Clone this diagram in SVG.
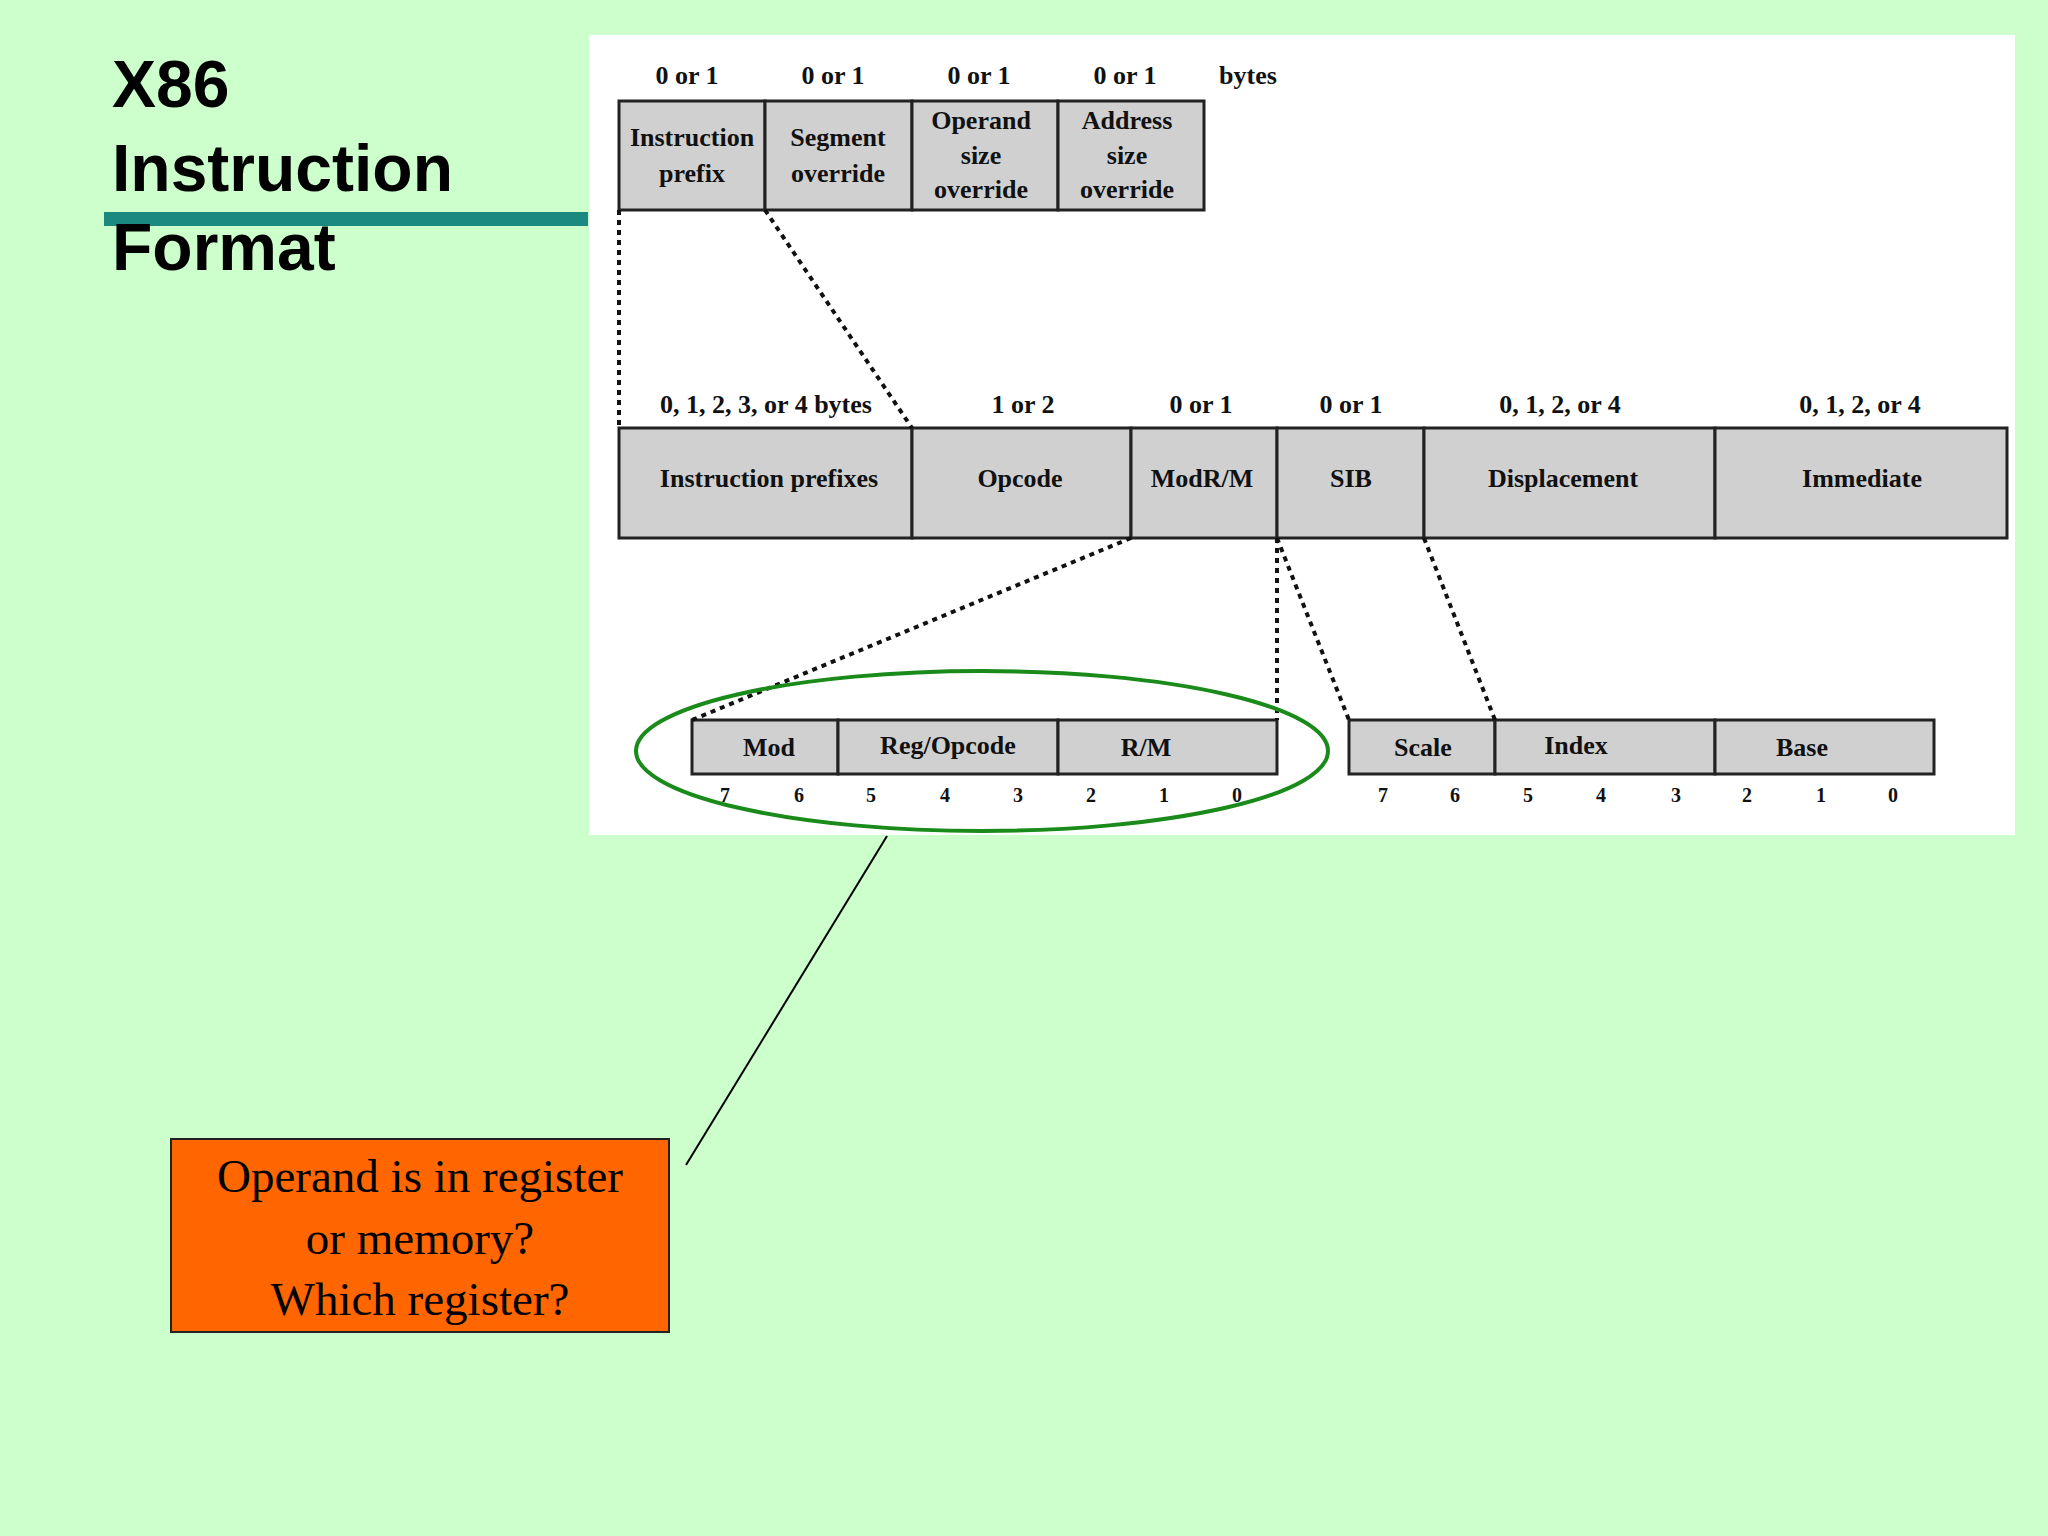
<svg xmlns="http://www.w3.org/2000/svg" width="2048" height="1536" viewBox="0 0 2048 1536">
<style>
.t{font-family:"Liberation Sans",Arial,sans-serif;font-weight:bold;font-size:66px;fill:#000}
.s{font-family:"Liberation Serif","Times New Roman",serif;font-weight:bold;font-size:26px;fill:#111;text-anchor:middle}
.b{fill:#d0d0d0;stroke:#222;stroke-width:3}
.d{stroke:#111;stroke-width:4;stroke-dasharray:5,5;fill:none}
.o{font-family:"Liberation Serif","Times New Roman",serif;font-size:47px;fill:#000;text-anchor:middle}
</style>
<rect width="2048" height="1536" fill="#ccffcc"/>
<rect x="589" y="35" width="1426" height="800" fill="#fff"/>
<rect x="104" y="212" width="484" height="14" fill="#1a8a80"/>
<text class="t" x="112" y="107">X86</text>
<text class="t" x="112" y="191">Instruction</text>
<text class="t" x="112" y="270">Format</text>
<g id="top">
<rect class="b" x="619" y="101" width="146" height="109"/>
<rect class="b" x="765" y="101" width="147" height="109"/>
<rect class="b" x="912" y="101" width="146" height="109"/>
<rect class="b" x="1058" y="101" width="146" height="109"/>
<text class="s" x="687" y="84">0 or 1</text><text class="s" x="833" y="84">0 or 1</text><text class="s" x="979" y="84">0 or 1</text><text class="s" x="1125" y="84">0 or 1</text><text class="s" x="1248" y="84">bytes</text>
<text class="s" x="692" y="146">Instruction</text><text class="s" x="692" y="182">prefix</text>
<text class="s" x="838" y="146">Segment</text><text class="s" x="838" y="182">override</text>
<text class="s" x="981" y="129">Operand</text><text class="s" x="981" y="164">size</text><text class="s" x="981" y="198">override</text>
<text class="s" x="1127" y="129">Address</text><text class="s" x="1127" y="164">size</text><text class="s" x="1127" y="198">override</text>
</g>
<g id="mid">
<rect class="b" x="619" y="428" width="293" height="110"/>
<rect class="b" x="912" y="428" width="219" height="110"/>
<rect class="b" x="1131" y="428" width="146" height="110"/>
<rect class="b" x="1277" y="428" width="147" height="110"/>
<rect class="b" x="1424" y="428" width="291" height="110"/>
<rect class="b" x="1715" y="428" width="292" height="110"/>
<text class="s" x="766" y="413">0, 1, 2, 3, or 4 bytes</text><text class="s" x="1023" y="413">1 or 2</text><text class="s" x="1201" y="413">0 or 1</text><text class="s" x="1351" y="413">0 or 1</text><text class="s" x="1560" y="413">0, 1, 2, or 4</text><text class="s" x="1860" y="413">0, 1, 2, or 4</text>
<text class="s" x="769" y="487">Instruction prefixes</text><text class="s" x="1020" y="487">Opcode</text><text class="s" x="1202" y="487">ModR/M</text><text class="s" x="1351" y="487">SIB</text><text class="s" x="1563" y="487">Displacement</text><text class="s" x="1862" y="487">Immediate</text>
</g>
<g id="modrm">
<rect class="b" x="692" y="720" width="146" height="54"/>
<rect class="b" x="838" y="720" width="220" height="54"/>
<rect class="b" x="1058" y="720" width="219" height="54"/>
<text class="s" x="769" y="756">Mod</text><text class="s" x="948" y="754">Reg/Opcode</text><text class="s" x="1146" y="756">R/M</text>
<g class="s" style="font-size:20px"><text x="725" y="802">7</text><text x="799" y="802">6</text><text x="871" y="802">5</text><text x="945" y="802">4</text><text x="1018" y="802">3</text><text x="1091" y="802">2</text><text x="1164" y="802">1</text><text x="1237" y="802">0</text></g>
</g>
<g id="sib">
<rect class="b" x="1349" y="720" width="146" height="54"/>
<rect class="b" x="1495" y="720" width="220" height="54"/>
<rect class="b" x="1715" y="720" width="219" height="54"/>
<text class="s" x="1423" y="756">Scale</text><text class="s" x="1576" y="754">Index</text><text class="s" x="1802" y="756">Base</text>
<g class="s" style="font-size:20px"><text x="1383" y="802">7</text><text x="1455" y="802">6</text><text x="1528" y="802">5</text><text x="1601" y="802">4</text><text x="1676" y="802">3</text><text x="1747" y="802">2</text><text x="1821" y="802">1</text><text x="1893" y="802">0</text></g>
</g>
<g id="connectors">
<line class="d" x1="619" y1="210" x2="619" y2="428"/>
<line class="d" x1="765" y1="210" x2="912" y2="428"/>
<line class="d" x1="1131" y1="538" x2="692" y2="720"/>
<line class="d" x1="1277" y1="538" x2="1277" y2="720"/>
<line class="d" x1="1277" y1="538" x2="1349" y2="720"/>
<line class="d" x1="1424" y1="538" x2="1495" y2="720"/>
<ellipse cx="982" cy="751" rx="346" ry="80" fill="none" stroke="#1a8a1a" stroke-width="4"/>
<line x1="887" y1="836" x2="686" y2="1165" stroke="#000" stroke-width="2"/>
</g>
<g id="note">
<rect x="171" y="1139" width="498" height="193" fill="#ff6600" stroke="#222" stroke-width="2"/>
<text class="o" x="420" y="1192">Operand is in register</text>
<text class="o" x="420" y="1254">or memory?</text>
<text class="o" x="420" y="1315">Which register?</text>
</g>
</svg>
